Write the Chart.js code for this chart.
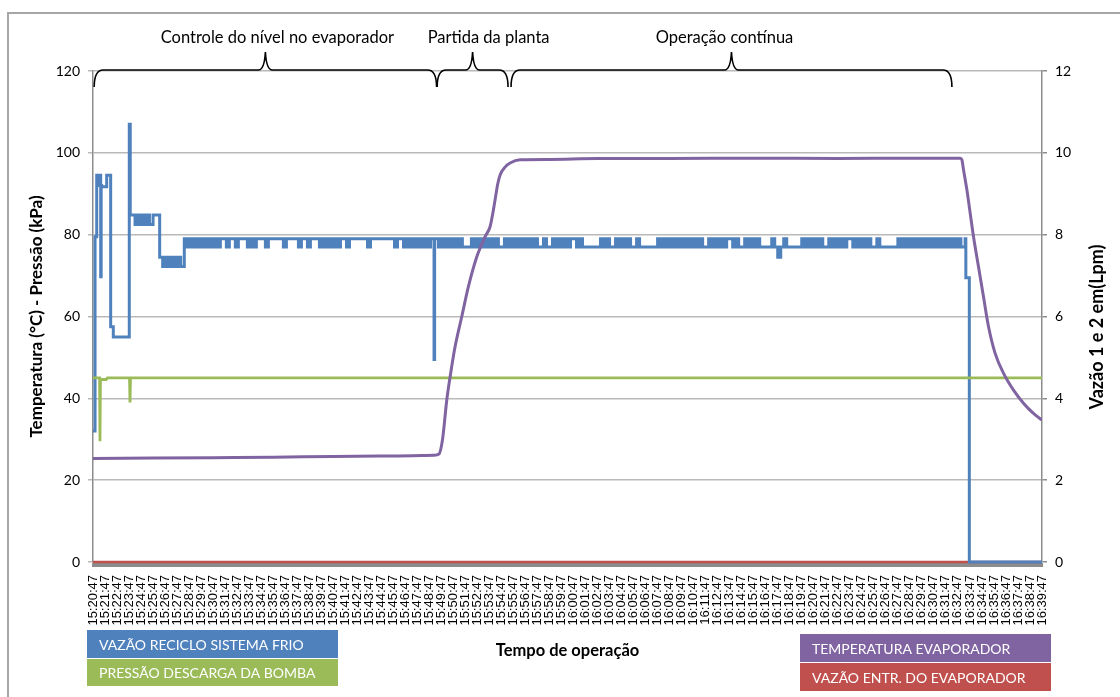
<!DOCTYPE html>
<html>
<head>
<meta charset="utf-8">
<script src="https://cdn.jsdelivr.net/npm/chart.js@4.4.1/dist/chart.umd.min.js"></script>
<style>
  html, body { margin: 0; padding: 0; background: #fff; }
  #quadro { position: relative; width: 1120px; height: 697px; overflow: hidden; }
  #moldura { position: absolute; left: 7px; top: 12px; width: 1130px; height: 700px;
             border-left: 2px solid #a6a6a6; border-top: 2px solid #a6a6a6; }
  canvas { position: absolute; left: 0; top: 0; }
</style>
</head>
<body>
<div id="quadro">
  <div id="moldura"></div>
  <canvas id="grafico" width="1120" height="697"></canvas>
</div>
<script>
// Rótulos do eixo de tempo (um por minuto)
const rotulosTempo = [
  '15:20:47','15:21:47','15:22:47','15:23:47','15:24:47','15:25:47','15:26:47','15:27:47','15:28:47','15:29:47',
  '15:30:47','15:31:47','15:32:47','15:33:47','15:34:47','15:35:47','15:36:47','15:37:47','15:38:47','15:39:47',
  '15:40:47','15:41:47','15:42:47','15:43:47','15:44:47','15:45:47','15:46:47','15:47:47','15:48:47','15:49:47',
  '15:50:47','15:51:47','15:52:47','15:53:47','15:54:47','15:55:47','15:56:47','15:57:47','15:58:47','15:59:47',
  '16:00:47','16:01:47','16:02:47','16:03:47','16:04:47','16:05:47','16:06:47','16:07:47','16:08:47','16:09:47',
  '16:10:47','16:11:47','16:12:47','16:13:47','16:14:47','16:15:47','16:16:47','16:17:47','16:18:47','16:19:47',
  '16:20:47','16:21:47','16:22:47','16:23:47','16:24:47','16:25:47','16:26:47','16:27:47','16:28:47','16:29:47',
  '16:30:47','16:31:47','16:32:47','16:33:47','16:34:47','16:35:47','16:36:47','16:37:47','16:38:47','16:39:47'
];

// Fases do ensaio (minutos desde 15:20:47)
const fasesRotulos = ['Controle do nível no evaporador', 'Partida da planta', 'Operação contínua'];
const fasesInicio = [0.1, 28.65, 34.8];
const fasesFim = [28.6, 34.55, 71.5];

// Temperatura do evaporador (°C)
const temperaturaT = [0, 5, 10, 15, 20, 25, 28.4, 28.8, 29.1, 29.45, 29.73, 30.14, 30.7, 31.25, 31.95, 32.64,
  33.06, 33.33, 33.47, 33.7, 33.89, 34.3, 34.72, 35.55, 38, 42, 48, 55, 62, 68, 72.2, 72.33, 72.47, 72.75,
  73.02, 73.3, 73.71, 74.13, 74.55, 75.1, 75.8, 76.63, 77.46, 78.29, 79];
const temperaturaV = [25.3, 25.4, 25.5, 25.6, 25.8, 25.9, 26.1, 26.4, 30, 39.6, 45.3, 52.6, 60, 67.3, 74.6, 79.5,
  82, 86, 88.5, 92.5, 94.6, 96.5, 97.5, 98.3, 98.4, 98.6, 98.6, 98.7, 98.6, 98.7, 98.7, 98.3, 95.8, 90.9,
  85.3, 79.5, 72.2, 64.8, 57.5, 51, 46.1, 42, 38.8, 36.3, 34.7];

// Pressão de descarga da bomba (kPa)
const pressaoT = [0, 0.55, 0.58, 0.62, 1.1, 1.2, 3.04, 3.08, 3.12, 79];
const pressaoV = [45, 45, 29.5, 44.6, 44.6, 45, 45, 39, 45, 45];

// Vazão de reciclo do sistema frio (Lpm): partida (instante em min, valor)
const recicloPartidaT = [0, 0.17, 0.31, 0.42, 0.5, 0.64, 0.68, 0.72, 1.14, 1.47, 1.69, 3.02, 3.1,
  3.5, 3.65, 3.9, 4.05, 4.3, 4.45, 4.7, 5.0, 5.55, 5.8, 6.05, 6.3, 6.55, 6.8, 7.05, 7.3];
const recicloPartidaV = [3.2, 7.95, 9.45, 9.2, 9.45, 6.97, 9.2, 9.17, 9.45, 5.75, 5.5, 10.7, 8.48,
  8.25, 8.48, 8.25, 8.48, 8.25, 8.48, 8.25, 8.48, 7.45, 7.22, 7.45, 7.22, 7.45, 7.22, 7.45, 7.22];

// Leituras de 15 em 15 s durante o controle de nível (a partir de 7,6 min)
const recicloControleInicio = 7.6;
const recicloControle = [
  7.9,7.7,7.9,7.7, 7.9,7.7,7.9,7.7, 7.9,7.7,7.9,7.7,
  7.9,7.9,7.7,7.9,
  7.9,7.7,7.9,7.9, 7.9,7.7,7.9,7.7,
  7.9,7.9,7.9,7.7, 7.9,7.9,7.9,7.9,
  7.9,7.7,7.9,7.9, 7.9,7.9,7.7,7.9, 7.9,7.7,7.9,7.9,
  7.9,7.7,7.9,7.7, 7.9,7.7,7.9,7.7, 7.9,7.9,7.7,7.9,
  7.9,7.9,7.9,7.9, 7.9,7.7,7.9,7.9, 7.9,7.9,7.9,7.9, 7.9,7.9,7.7,7.9,
  7.9,7.7,7.9,7.7, 7.9,7.7,7.9,7.7, 7.9,7.7,7.9
];
// Queda momentânea em 15:49 (instante em min, valor)
const recicloQuedaT = [28.35, 28.39, 28.44];
const recicloQuedaV = [7.9, 4.95, 7.9];

// Leituras de 15 em 15 s na partida da planta (a partir de 28,5 min)
const recicloPartidaPlantaInicio = 28.5;
const recicloPartidaPlanta = [
  7.9,7.7,7.9,7.7, 7.9,7.7,7.9,7.7, 7.9,7.7,7.7,7.7, 7.9,7.7,7.9,7.7, 7.9,7.7,7.9,7.7, 7.9,7.7
];

// Leituras de 15 em 15 s na operação contínua (a partir de 34 min)
const recicloOperacaoInicio = 34.0;
const recicloOperacao = [
  7.7,7.9,7.7,7.9, 7.7,7.9,7.7,7.9, 7.7,7.9,7.7,7.9,
  7.7,7.7,7.9,7.7,
  7.7,7.9,7.7,7.9, 7.7,7.9,7.7,7.9, 7.9,7.7,7.9,7.7,
  7.7,7.7,7.7,7.7,
  7.7,7.9,7.7,7.9, 7.7,7.7,7.9,7.7, 7.9,7.7,7.9,7.7, 7.7,7.9,7.7,7.7,
  7.7,7.7,7.7,7.7,
  7.9,7.7,7.9,7.7, 7.9,7.7,7.9,7.7, 7.9,7.7,7.9,7.7, 7.9,7.7,7.9,7.7, 7.7,7.9,7.7,7.9,
  7.7,7.9,7.7,7.9, 7.9,7.7,7.9,7.7, 7.7,7.9,7.7,7.9, 7.7,7.9,7.7,7.7,
  7.7,7.7,7.9,7.7,
  7.45,7.7,7.9,7.7,
  7.7,7.7,7.7,7.7,
  7.9,7.7,7.9,7.7, 7.9,7.7,7.9,7.7, 7.7,7.9,7.7,7.9, 7.7,7.9,7.7,7.9, 7.9,7.7,7.9,7.7,
  7.9,7.7,7.9,7.7, 7.7,7.9,7.7,7.7,
  7.7,7.7,7.7,7.7,
  7.9,7.7,7.9,7.7, 7.9,7.7,7.9,7.7, 7.9,7.7,7.9,7.7, 7.9,7.7,7.9,7.7, 7.9,7.7,7.9,7.7, 7.9,7.7
];
// Parada do reciclo (instante em min, valor)
const recicloParadaT = [72.5, 72.6, 72.66, 72.95, 79];
const recicloParadaV = [7.7, 7.9, 6.95, 0, 0];
const intervaloLeitura = 0.25; // 15 s em minutos

// Vazão de entrada do evaporador (Lpm)
const entradaT = [0, 79];
const entradaV = [0, 0];

const pares = (t, v) => t.map((x, i) => ({ x, y: v[i] }));
const leituras = (inicio, v) => v.map((y, i) => ({ x: inicio + i * intervaloLeitura, y }));

const reciclo = [].concat(
  pares(recicloPartidaT, recicloPartidaV),
  leituras(recicloControleInicio, recicloControle),
  pares(recicloQuedaT, recicloQuedaV),
  leituras(recicloPartidaPlantaInicio, recicloPartidaPlanta),
  leituras(recicloOperacaoInicio, recicloOperacao),
  pares(recicloParadaT, recicloParadaV)
);

const fonteCalibri = 'Lato, "Open Sans", sans-serif';

// Faixa cinza do eixo de categorias, logo abaixo da linha de zero
const faixaEixoPlugin = {
  id: 'faixaEixo',
  beforeDatasetsDraw(chart) {
    const { ctx, chartArea } = chart;
    ctx.save();
    ctx.fillStyle = '#8c8c8c';
    ctx.fillRect(chartArea.left - 1, chartArea.bottom + 1, chartArea.right - chartArea.left + 2, 4);
    ctx.restore();
  }
};

// Chaves e textos das fases no topo da área do gráfico
const fasesPlugin = {
  id: 'fases',
  afterDraw(chart, args, opts) {
    const { ctx, chartArea, scales } = chart;
    const yh = chartArea.top - 1, yb = yh + 17, yt = yh - 18, r = 9;
    ctx.save();
    ctx.strokeStyle = '#000';
    ctx.lineWidth = 1.6;
    ctx.font = '16.5px ' + fonteCalibri;
    ctx.fillStyle = '#000';
    ctx.textAlign = 'center';
    ctx.textBaseline = 'middle';
    fasesRotulos.forEach((txt, i) => {
      const x0 = scales.x.getPixelForValue(fasesInicio[i]);
      const x1 = scales.x.getPixelForValue(fasesFim[i]);
      const xm = (x0 + x1) / 2;
      ctx.beginPath();
      ctx.moveTo(x0, yb);
      ctx.quadraticCurveTo(x0, yh, x0 + r, yh);
      ctx.lineTo(xm - 7, yh);
      ctx.quadraticCurveTo(xm - 1, yh, xm, yt);
      ctx.quadraticCurveTo(xm + 1, yh, xm + 7, yh);
      ctx.lineTo(x1 - r, yh);
      ctx.quadraticCurveTo(x1, yh, x1, yb);
      ctx.stroke();
      ctx.fillText(txt, xm + opts.deslocamentos[i], 38);
    });
    ctx.restore();
  }
};

// Caixas de legenda coloridas e título do eixo direito
const legendaPlugin = {
  id: 'legendaCaixas',
  afterDraw(chart, args, opts) {
    const { ctx } = chart;
    ctx.save();
    opts.caixas.forEach(c => {
      const ds = chart.data.datasets[c.ds];
      ctx.fillStyle = ds.borderColor;
      ctx.fillRect(c.x, c.y, c.w, c.h);
      ctx.fillStyle = '#fff';
      ctx.font = '14px ' + fonteCalibri;
      ctx.textAlign = 'left';
      ctx.textBaseline = 'middle';
      ctx.fillText(ds.label, c.x + 12, c.y + c.h / 2 + 1);
    });
    ctx.translate(1097, 327);
    ctx.rotate(-Math.PI / 2);
    ctx.fillStyle = '#000';
    ctx.font = 'bold 18px ' + fonteCalibri;
    ctx.textAlign = 'center';
    ctx.textBaseline = 'middle';
    ctx.fillText(opts.tituloDireito, 0, 0);
    ctx.restore();
  }
};

new Chart(document.getElementById('grafico'), {
  type: 'line',
  data: {
    datasets: [
      { label: 'TEMPERATURA EVAPORADOR', data: pares(temperaturaT, temperaturaV), yAxisID: 'y',
        borderColor: '#8064a2', borderWidth: 3, cubicInterpolationMode: 'monotone' },
      { label: 'PRESSÃO DESCARGA DA BOMBA', data: pares(pressaoT, pressaoV), yAxisID: 'y',
        borderColor: '#9bbb59', borderWidth: 2.8 },
      { label: 'VAZÃO RECICLO SISTEMA FRIO', data: reciclo, yAxisID: 'y1',
        borderColor: '#4f81bd', borderWidth: 3, stepped: true, clip: 4 },
      { label: 'VAZÃO ENTR. DO EVAPORADOR', data: pares(entradaT, entradaV), yAxisID: 'y1',
        borderColor: '#c0504d', borderWidth: 2.4, clip: 4 }
    ]
  },
  options: {
    responsive: false,
    animation: false,
    events: [],
    elements: { point: { radius: 0 }, line: { tension: 0, borderJoinStyle: 'miter' } },
    layout: { padding: { top: 71, left: 0, right: 0, bottom: 0 } },
    plugins: {
      legend: { display: false },
      tooltip: { enabled: false },
      fases: { deslocamentos: [12, 16, -7] },
      legendaCaixas: {
        tituloDireito: 'Vazão 1 e 2 em(Lpm)',
        caixas: [
          { ds: 2, x: 87, y: 630, w: 251, h: 28 },
          { ds: 1, x: 87, y: 659, w: 251, h: 27 },
          { ds: 0, x: 800, y: 634, w: 251, h: 28 },
          { ds: 3, x: 800, y: 663, w: 251, h: 28 }
        ]
      }
    },
    scales: {
      x: {
        type: 'linear', min: 0, max: 79,
        ticks: {
          stepSize: 1, maxTicksLimit: 200, autoSkip: false, minRotation: 90, maxRotation: 90,
          padding: 13, color: '#000', font: { family: '"Liberation Sans", Arial, sans-serif', size: 13 },
          callback: v => rotulosTempo[v]
        },
        grid: { display: false, drawTicks: false },
        border: { display: false },
        title: { display: true, text: 'Tempo de operação', color: '#000',
                 font: { family: fonteCalibri, size: 16.5, weight: 'bold' }, padding: { top: 0, bottom: 36 } },
        afterFit: s => { s.height = 135; }
      },
      y: {
        position: 'left', min: 0, max: 120,
        ticks: { stepSize: 20, padding: 8, color: '#000', font: { family: fonteCalibri, size: 14 } },
        grid: { color: '#b9b9b9', lineWidth: 1.5, tickLength: 5, drawTicks: true },
        border: { color: '#8c8c8c', width: 1.5 },
        title: { display: true, text: 'Temperatura (°C) - Pressão (kPa)', color: '#000',
                 font: { family: fonteCalibri, size: 17, weight: 'bold' }, padding: { top: 26, bottom: 0 } },
        afterFit: s => { s.width = 93; }
      },
      y1: {
        position: 'right', min: 0, max: 12,
        ticks: { stepSize: 2, padding: 8, color: '#000', font: { family: fonteCalibri, size: 14 } },
        grid: { drawOnChartArea: false, color: '#8c8c8c', tickLength: 5, lineWidth: 1.5 },
        border: { color: '#8c8c8c', width: 1.5 },
        afterFit: s => { s.width = 78; }
      }
    }
  },
  plugins: [faixaEixoPlugin, fasesPlugin, legendaPlugin]
});
</script>
</body>
</html>
